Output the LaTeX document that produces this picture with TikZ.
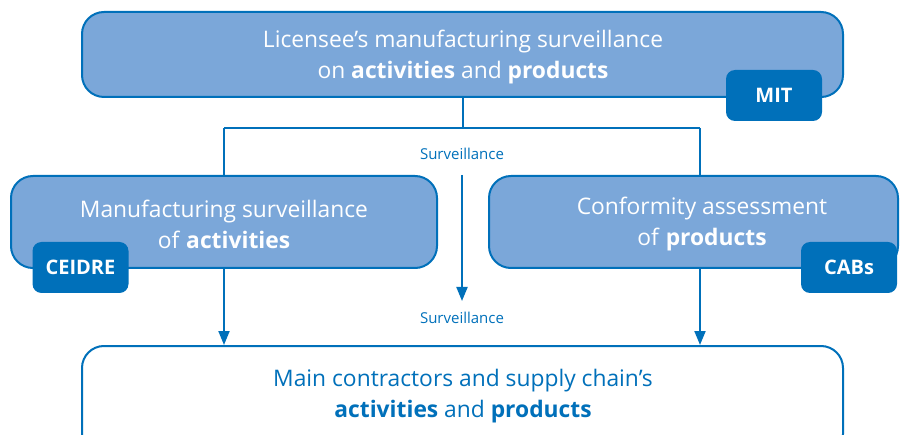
\documentclass[tikz,border=0pt]{standalone}
\usepackage{fontspec}
\setmainfont{Open Sans}
\usetikzlibrary{arrows.meta}
\definecolor{dblue}{HTML}{0070BA}
\definecolor{lblue}{HTML}{7BA7D9}
\tikzset{
  bigbox/.style={draw=dblue, line width=2pt, rounded corners=22pt, fill=lblue},
  outbox/.style={draw=dblue, line width=2pt, rounded corners=22pt, fill=white},
  badge/.style={fill=dblue, rounded corners=9pt, text=white, font=\fontsize{20}{22}\selectfont\bfseries, minimum width=96pt, minimum height=51pt, inner sep=0pt},
  boxtext/.style={align=center, text=white, font=\fontsize{22.8}{31}\selectfont},
  outtext/.style={align=center, text=dblue, font=\fontsize{22.8}{31}\selectfont},
  lbl/.style={text=dblue, font=\fontsize{15}{17}\selectfont},
  conn/.style={draw=dblue, line width=2pt},
  arr/.style={conn, -{Triangle[width=11pt,length=14pt]}}
}
\begin{document}
\begin{tikzpicture}[x=1pt,y=-1pt]
\useasboundingbox (0,0) rectangle (904,435);
\clip (0,0) rectangle (904,435);
% boxes
\node[bigbox, minimum width=761pt, minimum height=85pt, inner sep=0pt] (top) at (462.5,54.5) {};
\node[bigbox, minimum width=426pt, minimum height=92pt, inner sep=0pt] (left) at (224,222) {};
\node[bigbox, minimum width=409pt, minimum height=92pt, inner sep=0pt] (right) at (693.5,222) {};
\node[outbox, minimum width=761pt, minimum height=110pt, inner sep=0pt] (bottom) at (462.5,401) {};
% texts
\node[boxtext] (toptext) at (463,57) {Licensee’s manufacturing surveillance\\on \textbf{activities} and \textbf{products}};
\node[boxtext] (lefttext) at (224,224) {Manufacturing surveillance\\of \textbf{activities}};
\node[boxtext] (righttext) at (702,224) {Conformity assessment\\of \textbf{products}};
\node[outtext] (bottomtext) at (463,396) {Main contractors and supply chain’s\\\textbf{activities} and \textbf{products}};
% badges
\node[badge] (mit) at (774,95.5) {MIT};
\node[badge] (ceidre) at (80.5,267.5) {CEIDRE};
\node[badge] (cabs) at (849,267.5) {CABs};
% connectors
\coordinate (j) at (462.5,128);
\coordinate (jl) at (224,128);
\coordinate (jr) at (700,128);
\draw[conn] (top.south) -- (j);
\draw[conn] (jl) -- (jr);
\draw[conn] (jl) -- (left.north);
\draw[conn] (jr) -- (jr |- right.north);
\draw[arr] (left.south) -- (left.south |- bottom.north);
\draw[arr] (700,268) coordinate (rs) -- (rs |- bottom.north);
\coordinate (ms) at (462,175);
\coordinate (me) at (462,301);
\draw[arr] (ms) -- (me);
\node[lbl] (l1) at (462,154) {Surveillance};
\node[lbl] (l2) at (462,318) {Surveillance};
\end{tikzpicture}
\end{document}
